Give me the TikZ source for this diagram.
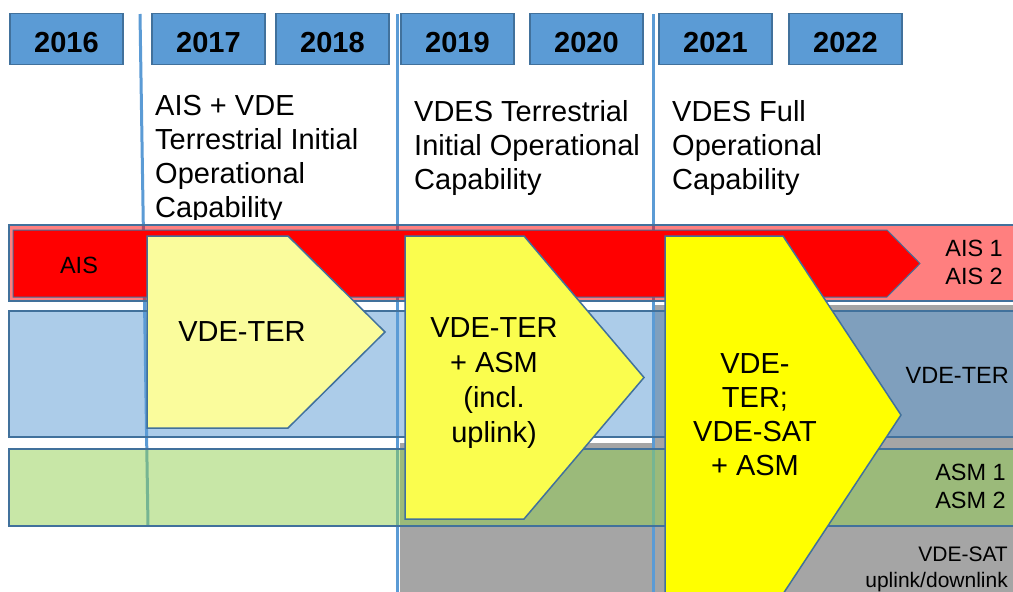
\documentclass[tikz,border=0pt]{standalone}
\usepackage{fontspec}
\setmainfont{Liberation Sans}
\definecolor{yearfill}{HTML}{5B9BD5}
\definecolor{edge}{HTML}{41719C}
\definecolor{asmgreen}{HTML}{92D050}
\definecolor{satgray}{HTML}{A5A5A5}
\definecolor{ylight}{HTML}{FAFC9C}
\definecolor{ymid}{HTML}{FAFD4E}
\definecolor{yfull}{HTML}{FFFF00}
\begin{document}
\begin{tikzpicture}[x=1pt,y=-1pt,
  year/.style={draw=edge, line width=1.5pt, fill=yearfill, minimum width=113pt, minimum height=51pt, inner sep=0pt, text height=27.8pt, text depth=0pt, font=\fontsize{29}{34}\selectfont\bfseries},
  head/.style={anchor=north west, align=left, inner sep=0pt, font=\fontsize{29}{34}\selectfont},
  boxlabel/.style={align=center, inner sep=0pt, font=\fontsize{29}{34}\selectfont},
  rowlabel/.style={anchor=east, align=right, inner sep=0pt, font=\fontsize{23.5}{28}\selectfont},
  divider/.style={draw=yearfill, line width=3pt},
  rowband/.style={draw=edge, line width=1.5pt, fill opacity=0.5},
  phase/.style={draw=edge, line width=1.5pt}
]
\useasboundingbox (0,0) rectangle (1013,592);
\clip (0,0) rectangle (1013,592);
\fill[white] (0,0) rectangle (1013,592);

% VDE-SAT grey area
\fill[satgray] (400,443) -- (655,443) -- (655,305) -- (1020,305) -- (1020,600) -- (400,600) -- cycle;

% dividers
\coordinate (l1t) at (140,14);
\coordinate (l1b) at (148,526);
\coordinate (l2t) at (397,14);
\coordinate (l2b) at (397,600);
\coordinate (l3t) at (653,14);
\coordinate (l3b) at (653,600);
\draw[divider] (l1t) -- (l1b);
\draw[divider] (l2t) -- (l2b);
\draw[divider] (l3t) -- (l3b);

% headers
\begin{scope}
\clip (0,0) rectangle (1013,219);
\node[head] (h1) at (155,95) {AIS + VDE\\Terrestrial Initial\\Operational\\Capability};
\node[head] (h2) at (414,100) {VDES Terrestrial\\Initial Operational\\Capability};
\node[head] (h3) at (672,100) {VDES Full\\Operational\\Capability};
\end{scope}

% years
\node[year] (y2016) at (66.5,39) {2016};
\node[year] (y2017) at (208.5,39) {2017};
\node[year] (y2018) at (332.5,39) {2018};
\node[year] (y2019) at (457.5,39) {2019};
\node[year] (y2020) at (586.5,39) {2020};
\node[year] (y2021) at (715.5,39) {2021};
\node[year] (y2022) at (845.5,39) {2022};

% rows
\path[rowband, fill=red] (9,225) rectangle (1020,301);
\path[rowband, fill=yearfill] (9,311) rectangle (1020,437);
\path[rowband, fill=asmgreen] (9,449) rectangle (1020,526);

% AIS arrow
\draw[phase, line width=1pt, fill=red] (13,230) -- (887,230) -- (920,263.5) -- (887,297) -- (13,297) -- cycle;

% phases
\draw[phase, fill=ylight] (147,236) -- (288,236) -- (385,332) -- (288,428) -- (147,428) -- cycle;
\draw[phase, fill=ymid] (405,236) -- (524,236) -- (644,377.5) -- (524,519) -- (405,519) -- cycle;
\draw[phase, fill=yfull] (665,236) -- (783,236) -- (901,415) -- (783,594) -- (665,594) -- cycle;

% labels
\node[boxlabel] (t1) at (242,332) {VDE-TER};
\node[boxlabel, font=\fontsize{29}{35}\selectfont] (t2) at (494,383) {VDE-TER\\+ ASM\\(incl.\\uplink)};
\node[boxlabel] (t3) at (755,415) {VDE-\\TER;\\VDE-SAT\\+ ASM};

\node[inner sep=0pt, font=\fontsize{23.5}{28}\selectfont] (ais) at (79,265) {AIS};
\node[rowlabel] (ais12) at (1003,262) {AIS 1\\AIS 2};
\node[rowlabel] (vdeter) at (1009,375) {VDE-TER};
\node[rowlabel] (asm12) at (1006,486.5) {ASM 1\\ASM 2};
\node[rowlabel, font=\fontsize{21}{26}\selectfont] (vdesat) at (1008,569) {VDE-SAT\\uplink/downlink};
\end{tikzpicture}
\end{document}
